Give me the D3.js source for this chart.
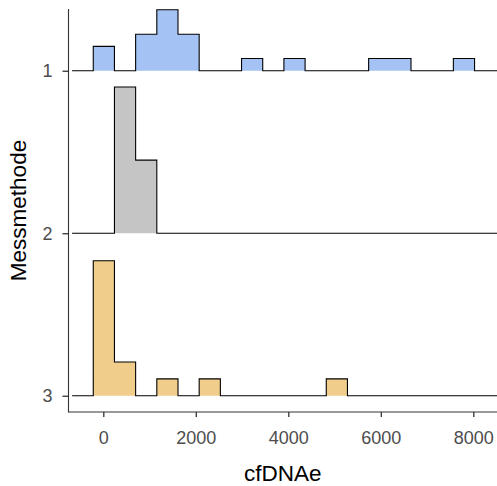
<!DOCTYPE html>
<html>
<head>
<meta charset="utf-8">
<script src="https://cdn.jsdelivr.net/npm/d3@7"></script>
<style>
  html, body { margin: 0; padding: 0; background: #fff; }
  svg { display: block; }
</style>
</head>
<body>
<svg id="chart" width="497" height="486"></svg>
<script>
// Measurement methods (rows, top to bottom)
const methods = ["1", "2", "3"];
const fills = ["#A4C2F4", "#C5C5C5", "#F1CD8B"];

// Histogram bins for cfDNAe: left edge of the first bin and common width
const binStart = -675;
const binWidth = 458;

// Counts per bin for each method
const counts1 = [0, 2, 0, 3, 5, 3, 0, 0, 1, 0, 1, 0, 0, 0, 1, 1, 0, 0, 1, 0, 0];
const counts2 = [0, 0, 12, 6, 0, 0, 0, 0, 0, 0, 0, 0, 0, 0, 0, 0, 0, 0, 0, 0, 0];
const counts3 = [0, 8, 2, 0, 1, 0, 1, 0, 0, 0, 0, 0, 1, 0, 0, 0, 0, 0, 0, 0, 0];
const countsByMethod = [counts1, counts2, counts3];

const xTicks = [0, 2000, 4000, 6000, 8000];
const ridgeScale = 0.9;

const svg = d3.select("#chart");
const panel = { left: 68.5, right: 497, top: 9, bottom: 412 };

const x = d3.scaleLinear().domain([0, 8000]).range([103.3, 473.3]);
// Row index scale: row 1 at top
const y = d3.scaleLinear().domain([3.1, 0.62]).range([panel.bottom, panel.top]);

// Relative frequency per bin, scaled so the tallest bar across rows is ridgeScale rows high
const fractions = countsByMethod.map(c => {
  const n = d3.sum(c);
  return c.map(v => v / n);
});
const maxFrac = d3.max(fractions, f => d3.max(f));
const h = d3.scaleLinear().domain([0, maxFrac]).range([0, ridgeScale]);

svg.append("defs").append("clipPath").attr("id", "panelClip")
  .append("rect")
  .attr("x", panel.left).attr("y", 0)
  .attr("width", panel.right - panel.left).attr("height", panel.bottom);

const ridges = svg.append("g").attr("clip-path", "url(#panelClip)");

methods.forEach((m, i) => {
  const base = i + 1;
  const pts = [];
  fractions[i].forEach((f, k) => {
    const x0 = binStart + k * binWidth, x1 = x0 + binWidth;
    pts.push([x0, f], [x1, f]);
  });
  const first = binStart, last = binStart + fractions[i].length * binWidth;
  const outline = [[first, 0], ...pts, [last, 0]];

  const area = d3.area()
    .x(d => x(d[0]))
    .y0(y(base))
    .y1(d => y(base - h(d[1])));
  const line = d3.line()
    .x(d => x(d[0]))
    .y(d => y(base - h(d[1])));

  const g = ridges.append("g");
  g.append("path").datum(outline)
    .attr("d", area)
    .attr("fill", fills[i]);
  g.append("path").datum(pts)
    .attr("d", line)
    .attr("fill", "none")
    .attr("stroke", "#000")
    .attr("stroke-width", 1.1)
    .attr("stroke-linejoin", "miter");
});

// Axes
const axisColor = "#333";
const tickColor = "#4D4D4D";
const font = "'Liberation Sans', Arial, sans-serif";

const xAxis = svg.append("g").attr("transform", `translate(0,${panel.bottom})`)
  .call(d3.axisBottom(x).tickValues(xTicks).tickFormat(d3.format("d")).tickSize(5).tickPadding(14));
xAxis.select(".domain").remove();
xAxis.selectAll(".tick line").attr("stroke", axisColor).attr("stroke-width", 1.3);
xAxis.selectAll(".tick text")
  .attr("fill", tickColor).style("font-family", font).style("font-size", "18px");

const yAxis = svg.append("g").attr("transform", `translate(${panel.left},0)`)
  .call(d3.axisLeft(y).tickValues([1, 2, 3]).tickFormat((d, i) => methods[i]).tickSize(6).tickPadding(10));
yAxis.select(".domain").remove();
yAxis.selectAll(".tick line").attr("stroke", axisColor).attr("stroke-width", 1.3);
yAxis.selectAll(".tick text")
  .attr("fill", tickColor).style("font-family", font).style("font-size", "18px");

svg.append("line")
  .attr("x1", panel.left).attr("x2", panel.left)
  .attr("y1", panel.top).attr("y2", panel.bottom + 0.5)
  .attr("stroke", axisColor).attr("stroke-width", 1.1);
svg.append("line")
  .attr("x1", panel.left).attr("x2", panel.right)
  .attr("y1", panel.bottom).attr("y2", panel.bottom)
  .attr("stroke", axisColor).attr("stroke-width", 1.1);

// Axis titles
svg.append("text")
  .attr("x", (panel.left + panel.right) / 2).attr("y", 480.5)
  .attr("text-anchor", "middle")
  .style("font-family", font).style("font-size", "22.5px").attr("fill", "#000")
  .text("cfDNAe");

svg.append("text")
  .attr("transform", `translate(26,${(panel.top + panel.bottom) / 2}) rotate(-90)`)
  .attr("text-anchor", "middle")
  .style("font-family", font).style("font-size", "22.5px").attr("fill", "#000")
  .text("Messmethode");
</script>
</body>
</html>
